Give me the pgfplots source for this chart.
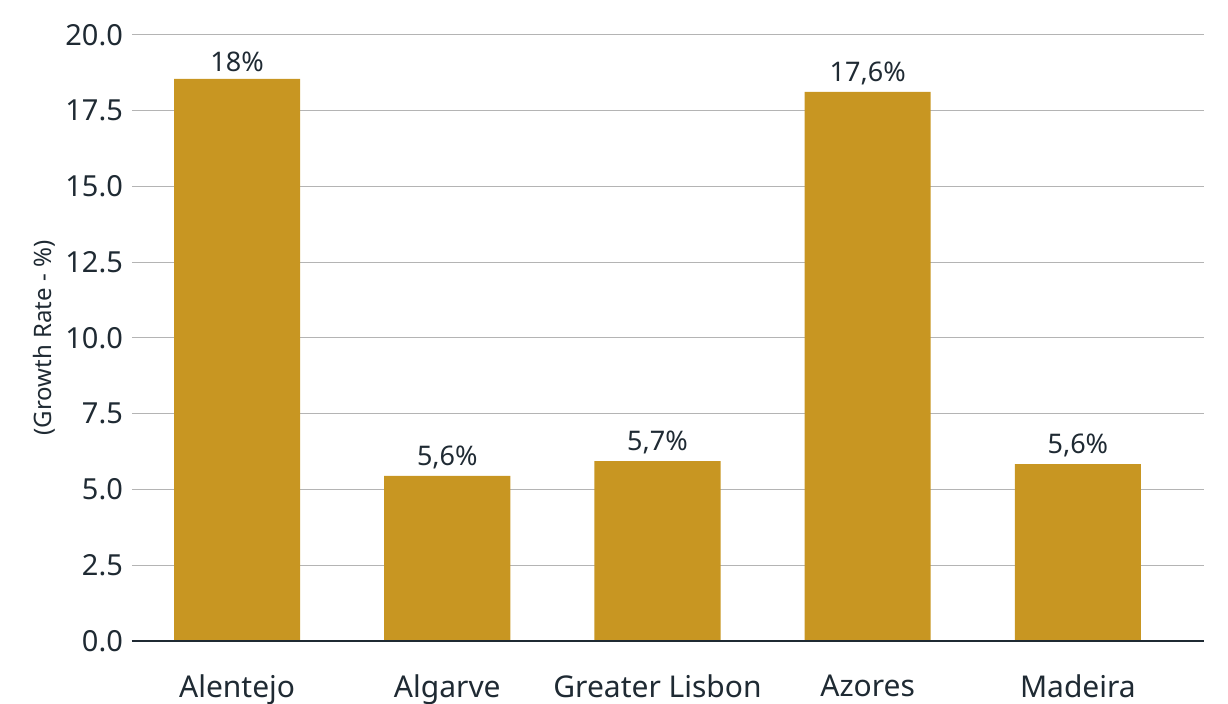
\documentclass[border=0pt]{standalone}
\usepackage{pgfplots}
\pgfplotsset{compat=1.18}
\usepackage{fontspec}
\setmainfont{Noto Sans}
\definecolor{barc}{HTML}{C89622}
\definecolor{txt}{HTML}{1F2A33}
\definecolor{gridc}{HTML}{B4B4B4}
\begin{document}
\begin{tikzpicture}
\useasboundingbox (-66pt,-31.5pt) rectangle (548pt,320.5pt);
\begin{axis}[
  scale only axis,
  width=536pt, height=303pt,
  xmin=-0.5, xmax=4.6,
  ymin=0, ymax=20,
  ytick={0,2.5,...,20},
  yticklabel style={/pgf/number format/fixed,/pgf/number format/fixed zerofill,/pgf/number format/precision=1},
  /pgf/number format/assume math mode=true,
  xtick={0,1,2,3,4},
  xticklabels={Alentejo,Algarve,Greater Lisbon,Azores,Madeira},
  axis line style={draw=none},
  axis x line*=bottom,
  axis y line*=left,
  tick style={draw=none},
  ymajorgrids,
  grid style={gridc, line width=0.5pt},
  ticklabel style={font=\fontsize{14.5}{16}\selectfont, text=txt},
  xticklabel style={yshift=-9pt, font=\fontsize{15}{17}\selectfont},
  yticklabel style={xshift=-1pt},
  ylabel={(Growth Rate - \%)},
  ylabel style={font=\fontsize{12}{14}\selectfont, text=txt, yshift=-2pt},
  ybar, bar width=0.6, bar shift=0pt,
  clip=false,
]
\addplot[fill=barc, draw=none] coordinates {(0,18.55) (1,5.45) (2,5.94) (3,18.12) (4,5.84)};
\draw[txt, line width=1pt] (axis cs:-0.5,0) -- (axis cs:4.6,0);
\node[anchor=south, font=\fontsize{13.5}{15}\selectfont, text=txt] at (axis cs:0,18.55) {18\%};
\node[anchor=south, font=\fontsize{13.5}{15}\selectfont, text=txt] at (axis cs:1,5.45) {5,6\%};
\node[anchor=south, font=\fontsize{13.5}{15}\selectfont, text=txt] at (axis cs:2,5.94) {5,7\%};
\node[anchor=south, font=\fontsize{13.5}{15}\selectfont, text=txt] at (axis cs:3,18.12) {17,6\%};
\node[anchor=south, font=\fontsize{13.5}{15}\selectfont, text=txt] at (axis cs:4,5.84) {5,6\%};
\end{axis}
\end{tikzpicture}
\end{document}
